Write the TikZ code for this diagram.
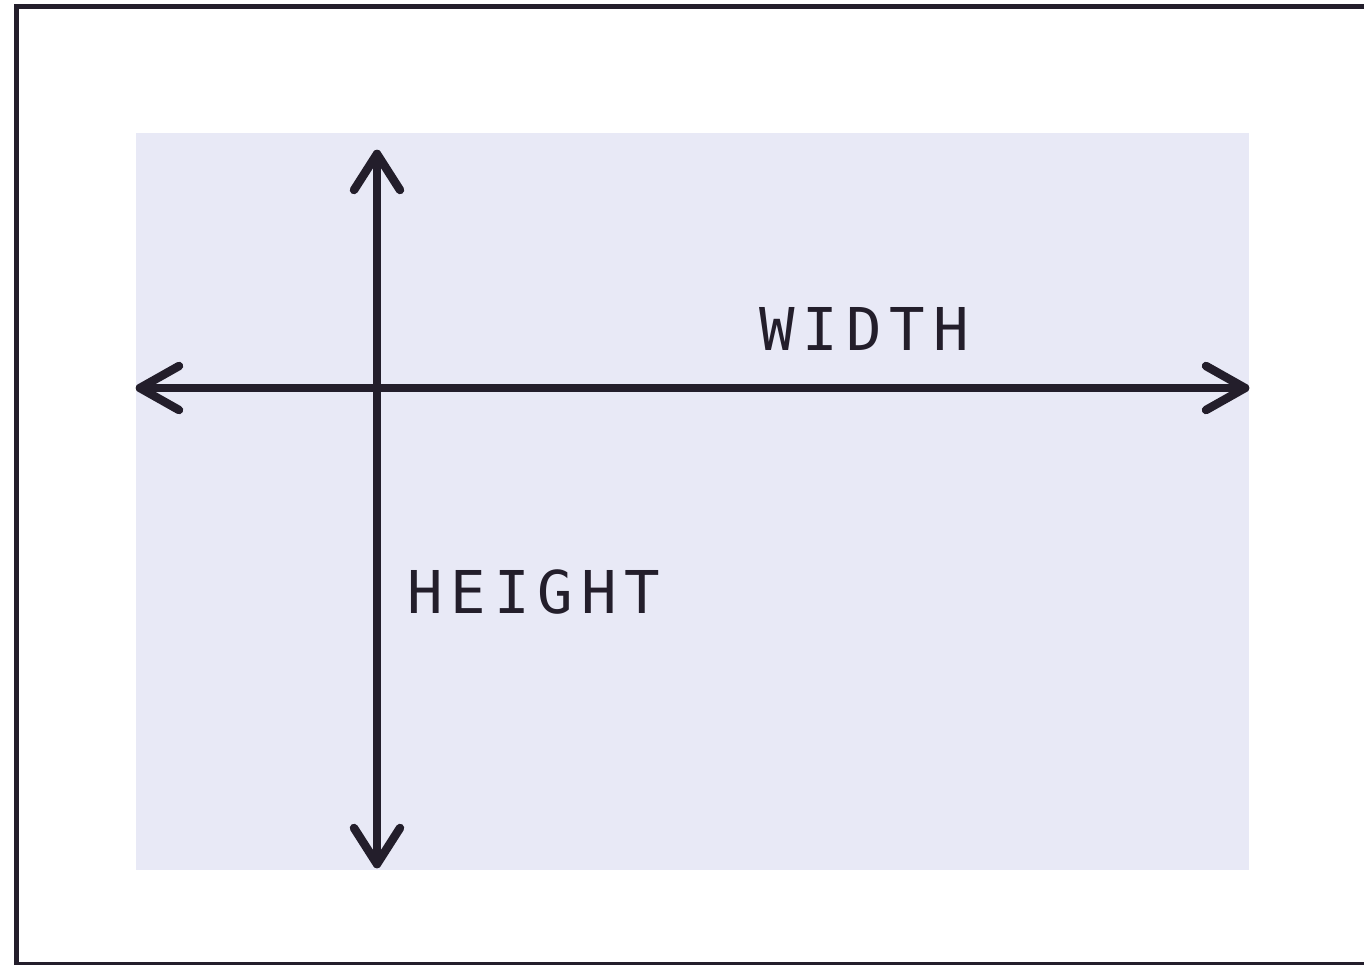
\documentclass[tikz,border=0pt]{standalone}
\usepackage{fontspec}
\usetikzlibrary{calc}
\newfontfamily\labelfont[LetterSpace=13.5]{DejaVu Sans Mono}
\definecolor{ink}{HTML}{231E2B}
\definecolor{lav}{HTML}{E8E9F6}
\begin{document}
\begin{tikzpicture}[x=1pt,y=-1pt,
  axis/.style={draw=ink,line width=8.5pt,line cap=round,line join=round},
  lbl/.style={text=ink,font=\labelfont\fontsize{59}{59}\selectfont,inner sep=0pt,anchor=base west}]
\useasboundingbox (0,0) rectangle (1364,964);
\fill[white] (0,0) rectangle (1364,964);
\draw[ink,line width=5pt] (16.5,6.5) rectangle (1390,964.5);
\fill[lav] (136,133) rectangle (1249,870);
\coordinate (L) at (140,388);
\coordinate (R) at (1245,388);
\coordinate (T) at (377,154);
\coordinate (B) at (377,864);
\draw[axis] (L) -- (R);
\draw[axis] (T) -- (B);
\draw[axis] ($(L)+(39,-22)$) -- (L) -- ($(L)+(39,22)$);
\draw[axis] ($(R)+(-39,-22)$) -- (R) -- ($(R)+(-39,22)$);
\draw[axis] ($(T)+(-23,36)$) -- (T) -- ($(T)+(23,36)$);
\draw[axis] ($(B)+(-23,-36)$) -- (B) -- ($(B)+(23,-36)$);
\node[lbl] (w) at (759,350) {WIDTH};
\node[lbl] (h) at (407,613) {HEIGHT};
\end{tikzpicture}
\end{document}
